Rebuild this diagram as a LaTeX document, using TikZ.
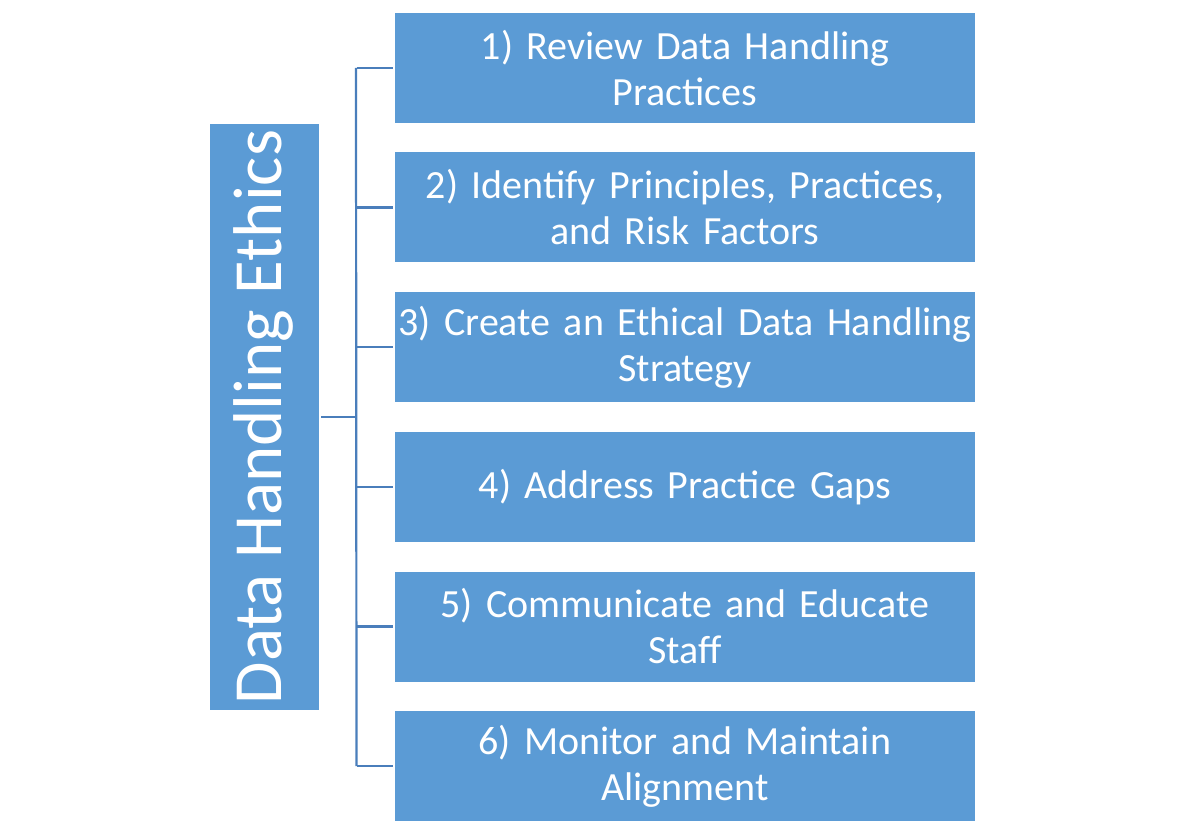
\documentclass[tikz,border=0pt]{standalone}
\usepackage{fontspec}
\setmainfont{Carlito}
\definecolor{boxblue}{HTML}{5B9BD5}
\definecolor{linblue}{HTML}{4A7EBB}
\begin{document}
\begin{tikzpicture}[x=1pt,y=-1pt,
  stepbox/.style={fill=boxblue,draw=none,minimum width=580pt,minimum height=110pt,
    text=white,align=center,font=\fontsize{40}{46}\selectfont,inner sep=0pt,text width=580pt},
  conn/.style={draw=linblue,line width=2.2pt}]
\useasboundingbox (0,0) rectangle (1184,837);
\node[fill=boxblue,minimum width=109pt,minimum height=586pt,inner sep=0pt] (main) at (264.5,417) {};
\node[rotate=90,text=white,font=\fontsize{69}{80}\selectfont,inner sep=0pt] (mainlbl) at ([xshift=-1pt]main.center) {Data Handling Ethics};
\node[stepbox] (s1) at (685,68) {1) Review Data Handling\\Practices};
\node[stepbox] (s2) at (685,207.5) {2) Identify Principles, Practices,\\and Risk Factors};
\node[stepbox] (s3) at (685,347) {3) Create an Ethical Data Handling\\Strategy};
\node[stepbox] (s4) at (685,487) {4) Address Practice Gaps};
\node[stepbox] (s5) at (685,626.5) {5) Communicate and Educate\\Staff};
\node[stepbox] (s6) at (685,766) {6) Monitor and Maintain\\Alignment};
\coordinate (top) at (356.5,68);
\coordinate (bot) at (356.5,766);
\coordinate (mid) at (356.5,417);
\draw[conn] ([xshift=-0.5pt]top) -- (bot);
\draw[conn] ([xshift=2pt]main.east) -- (mid);
\foreach \s in {s1,s2,s3,s4,s5,s6}{
  \draw[conn] (356.5,0 |- \s.west) -- ([xshift=-2pt]\s.west);
}
\end{tikzpicture}
\end{document}
